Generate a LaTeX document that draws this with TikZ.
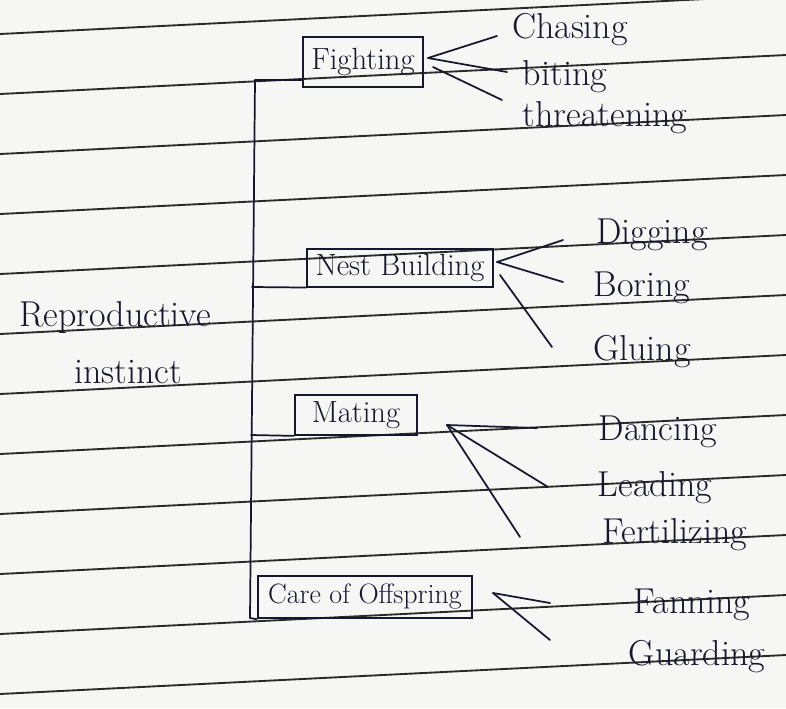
\documentclass[tikz,border=0pt]{standalone}
\usepackage{fontspec}
\definecolor{ink}{HTML}{16162E}
\definecolor{rule}{HTML}{2A2A2A}
\definecolor{paper}{HTML}{F6F6F4}
\tikzset{
  hand/.style={font=\fontsize{27}{31}\selectfont, text=ink, inner sep=0pt},
  boxed/.style={draw=ink, line width=1.3pt, inner sep=0pt, font=\fontsize{23}{27}\selectfont, text=ink},
  wire/.style={draw=ink, line width=1.3pt, line cap=round},
  ruled/.style={draw=rule, line width=1.4pt}
}
\begin{document}
\begin{tikzpicture}[x=0.75pt,y=-0.75pt]
\fill[paper] (0,0) rectangle (786,708);
\useasboundingbox (0,0) rectangle (786,708);
\clip (0,0) rectangle (786,708);
% ruled lines of the paper
\foreach \k in {0,...,11}{
  \draw[ruled] (0,{34+60*\k}) -- (786,{-5+60*\k});
}
% root
\node[hand] (rep) at (115,318) {Reproductive};
\node[hand] (ins) at (128,372) {instinct};
% category boxes
\node[boxed, minimum width=90pt, minimum height=37pt] (fbox) at (363,62) {Fighting};
\node[boxed, minimum width=139pt, minimum height=28pt] (nbox) at (400,268) {Nest Building};
\node[boxed, minimum width=92pt, minimum height=30pt] (mbox) at (356,415) {Mating};
\node[boxed, minimum width=161pt, minimum height=32pt, font=\fontsize{21}{25}\selectfont] (cbox) at (365,597) {Care of Offspring};
% bracket
\coordinate (b1) at (255,80);
\coordinate (b2) at (252,287);
\coordinate (b3) at (251,435);
\coordinate (b4) at (250,618);
\draw[wire] (b1) -- (b4);
\draw[wire] (b1) -- (fbox.west |- b1);
\draw[wire] (b2) -- (nbox.south west);
\draw[wire] (b3) -- (mbox.south west);
\draw[wire] (b4) -- (cbox.south west);
% leaves
\node[hand] (cha) at (570,30) {Chasing};
\node[hand] (bit) at (565,77) {biting};
\node[hand] (thr) at (605,118) {threatening};
\node[hand] (dig) at (652,235) {Digging};
\node[hand] (bor) at (642,288) {Boring};
\node[hand] (glu) at (642,352) {Gluing};
\node[hand] (dan) at (658,432) {Dancing};
\node[hand] (lea) at (655,488) {Leading};
\node[hand] (fer) at (675,535) {Fertilizing};
\node[hand] (fan) at (692,605) {Fanning};
\node[hand] (gua) at (697,657) {Guarding};
% fan points and free ends
\coordinate (f1) at (428,58);
\coordinate (f2) at (433,67);
\coordinate (e1) at (497,36);
\coordinate (e2) at (507,72);
\coordinate (e3) at (502,100);
\draw[wire] (f1) -- (e1);
\draw[wire] (f1) -- (e2);
\draw[wire] (f2) -- (e3);
\coordinate (n1) at (497,262);
\coordinate (n2) at (500,275);
\coordinate (d1) at (563,240);
\coordinate (d2) at (563,282);
\coordinate (d3) at (552,347);
\draw[wire] (n1) -- (d1);
\draw[wire] (n1) -- (d2);
\draw[wire] (n2) -- (d3);
\coordinate (m1) at (447,425);
\coordinate (g1) at (537,428);
\coordinate (g2) at (548,487);
\coordinate (g3) at (520,537);
\draw[wire] (m1) -- (g1);
\draw[wire] (m1) -- (g2);
\draw[wire] (m1) -- (g3);
\coordinate (c1) at (493,593);
\coordinate (h1) at (550,603);
\coordinate (h2) at (550,640);
\draw[wire] (c1) -- (h1);
\draw[wire] (c1) -- (h2);
\end{tikzpicture}
\end{document}
